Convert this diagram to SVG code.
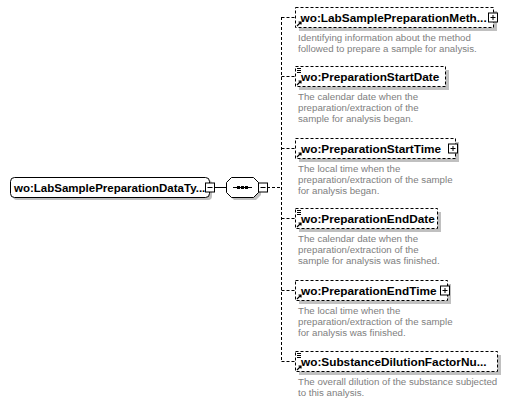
<svg xmlns="http://www.w3.org/2000/svg" width="510" height="402" viewBox="0 0 510 402">
<style>
.bg{fill:#ffffff}
.shadow{fill:#c0c0c0;stroke:none}
.box{fill:#ffffff;stroke:#000000;stroke-width:1}
.dbox{fill:#ffffff;stroke:#000000;stroke-width:1;stroke-dasharray:3,2}
.name{font-family:"Liberation Sans",Arial,sans-serif;font-weight:bold;font-size:11.8px;fill:#000000}
.rname{font-family:"Liberation Sans",Arial,sans-serif;font-weight:bold;font-size:11.5px;fill:#000000}
.desc{font-family:"Liberation Sans",Arial,sans-serif;font-size:9.7px;fill:#808080}
.conn{stroke:#000000;stroke-width:1;fill:none}
.dconn{stroke:#000000;stroke-width:1;fill:none;stroke-dasharray:3,2}
.pm{fill:#ffffff;stroke:#000000;stroke-width:1}
.sym{stroke:#000000;stroke-width:1;fill:none}
</style>
<defs>
<g id="plus"><rect class="pm" x="0" y="0" width="9" height="9"/><path class="sym" d="M2,4.5H7M4.5,2V7"/></g>
<g id="minus"><rect class="pm" x="0" y="0" width="9" height="9"/><path class="sym" d="M2,4.5H7"/></g>
<g id="refarrow"><path d="M1,6L5,2M2.5,2H5V4.5" stroke="#000" stroke-width="1.2" fill="none"/></g>
<g id="simple"><path d="M0,0.5H4M0,2.5H4M0,4.5H4" stroke="#000" stroke-width="1" fill="none"/></g>
</defs>
<rect class="bg" x="0" y="0" width="510" height="402"/>

<g id="connectors">
<line class="conn" x1="214" y1="187.5" x2="226" y2="187.5"/>
<line class="dconn" x1="267" y1="187.5" x2="281.5" y2="187.5"/>
<line class="dconn" x1="281.5" y1="17" x2="281.5" y2="361"/>
<line class="dconn" x1="281.5" y1="17.5" x2="295" y2="17.5"/>
<line class="dconn" x1="281.5" y1="76.5" x2="295" y2="76.5"/>
<line class="dconn" x1="281.5" y1="148.5" x2="295" y2="148.5"/>
<line class="dconn" x1="281.5" y1="218.5" x2="295" y2="218.5"/>
<line class="dconn" x1="281.5" y1="290.5" x2="295" y2="290.5"/>
<line class="dconn" x1="281.5" y1="361.5" x2="295" y2="361.5"/>
</g>

<g id="root">
<rect class="shadow" x="13" y="180" width="199" height="20" rx="4"/>
<rect class="box" x="10.5" y="177.5" width="199" height="20" rx="4"/>
<text class="rname" x="14" y="192">wo:LabSamplePreparationDataTy...</text>
<use href="#minus" x="205.5" y="183"/>
</g>

<g id="sequence">
<polygon class="shadow" points="234,180 256,180 261,185 261,195 256,200 234,200 229,195 229,185"/>
<polygon class="box" points="231.5,177.5 253.5,177.5 258.5,182.5 258.5,192.5 253.5,197.5 231.5,197.5 226.5,192.5 226.5,182.5"/>
<line class="conn" x1="233" y1="187.5" x2="252" y2="187.5"/>
<rect x="237" y="186" width="3" height="3" fill="#000"/>
<rect x="241" y="186" width="3" height="3" fill="#000"/>
<rect x="245" y="186" width="3" height="3" fill="#000"/>
<use href="#minus" x="258.5" y="183"/>
</g>

<g id="child1">
<rect class="shadow" x="299" y="11" width="198" height="20"/>
<rect class="dbox" x="295.5" y="7.5" width="198" height="20"/>
<text class="name" x="300.5" y="22">wo:LabSamplePreparationMeth...</text>
<use href="#refarrow" x="296" y="20"/>
<use href="#plus" x="488.5" y="13"/>
<text class="desc" x="298" y="41">Identifying information about the method</text>
<text class="desc" x="298" y="52">followed to prepare a sample for analysis.</text>
</g>

<g id="child2">
<rect class="shadow" x="299" y="70" width="150" height="20"/>
<rect class="dbox" x="295.5" y="66.5" width="150" height="20"/>
<text class="name" x="301" y="81">wo:PreparationStartDate</text>
<use href="#simple" x="297" y="68"/>
<use href="#refarrow" x="296" y="79"/>
<text class="desc" x="298" y="100">The calendar date when the</text>
<text class="desc" x="298" y="111">preparation/extraction of the</text>
<text class="desc" x="298" y="122">sample for analysis began.</text>
</g>

<g id="child3">
<rect class="shadow" x="299" y="142" width="160" height="20"/>
<rect class="dbox" x="295.5" y="138.5" width="160" height="20"/>
<text class="name" x="301" y="153">wo:PreparationStartTime</text>
<use href="#refarrow" x="296" y="151"/>
<use href="#plus" x="448.5" y="144"/>
<text class="desc" x="298" y="172">The local time when the</text>
<text class="desc" x="298" y="183">preparation/extraction of the sample</text>
<text class="desc" x="298" y="194">for analysis began.</text>
</g>

<g id="child4">
<rect class="shadow" x="299" y="212" width="142" height="20"/>
<rect class="dbox" x="295.5" y="208.5" width="142" height="20"/>
<text class="name" x="301" y="223">wo:PreparationEndDate</text>
<use href="#simple" x="297" y="210"/>
<use href="#refarrow" x="296" y="221"/>
<text class="desc" x="298" y="242">The calendar date when the</text>
<text class="desc" x="298" y="253">preparation/extraction of the</text>
<text class="desc" x="298" y="264">sample for analysis was finished.</text>
</g>

<g id="child5">
<rect class="shadow" x="299" y="284" width="152" height="20"/>
<rect class="dbox" x="295.5" y="280.5" width="152" height="20"/>
<text class="name" x="301" y="295">wo:PreparationEndTime</text>
<use href="#refarrow" x="296" y="293"/>
<use href="#plus" x="440.5" y="286"/>
<text class="desc" x="298" y="314">The local time when the</text>
<text class="desc" x="298" y="325">preparation/extraction of the sample</text>
<text class="desc" x="298" y="336">for analysis was finished.</text>
</g>

<g id="child6">
<rect class="shadow" x="299" y="355" width="202" height="20"/>
<rect class="dbox" x="295.5" y="351.5" width="202" height="20"/>
<text class="name" x="301" y="366">wo:SubstanceDilutionFactorNu...</text>
<use href="#simple" x="297" y="353"/>
<use href="#refarrow" x="296" y="364"/>
<text class="desc" x="298" y="385">The overall dilution of the substance subjected</text>
<text class="desc" x="298" y="396">to this analysis.</text>
</g>
</svg>
